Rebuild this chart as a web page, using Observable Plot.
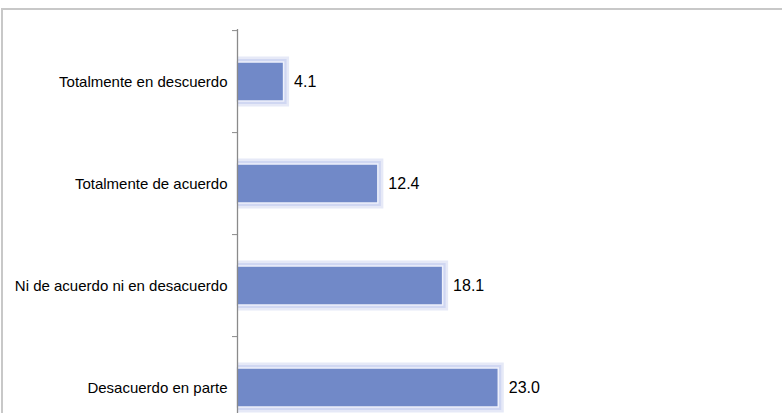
<!DOCTYPE html>
<html><head><meta charset="utf-8">
<script src="https://cdn.jsdelivr.net/npm/d3@7"></script>
<script src="https://cdn.jsdelivr.net/npm/@observablehq/plot@0.6"></script>
<style>
body{margin:0;background:#fff;}
#wrap{position:relative;width:782px;height:413px;overflow:hidden;}
#frame{position:absolute;left:1px;top:8px;width:900px;height:500px;border-top:2px solid #c8c8c8;border-left:2px solid #c8c8c8;pointer-events:none;}
#wrap svg{position:absolute;left:0;top:0;}
</style></head><body>
<div id="wrap"><div id="frame"></div></div>
<script>
const categories = ["Totalmente en descuerdo", "Totalmente de acuerdo", "Ni de acuerdo ni en desacuerdo", "Desacuerdo en parte"];
const values = [4.1, 12.4, 18.1, 23.0];
const valueLabels = ["4.1", "12.4", "18.1", "23.0"];

const data = categories.map((c, i) => ({category: c, value: values[i], label: valueLabels[i]}));
const yTop = 29.3, yBottom = 440.5;
const step = (yBottom - yTop) / categories.length;

const chart = Plot.plot({
  width: 782, height: 413,
  marginTop: 29, marginBottom: 0, marginLeft: 237, marginRight: 0,
  style: {fontFamily: "'Liberation Sans', Arial, sans-serif", background: "transparent", overflow: "visible"},
  x: {domain: [0, 25], range: [237, 521], axis: null},
  y: {domain: categories, range: [yTop, yBottom], paddingInner: 0.615, paddingOuter: 0.3075, label: null},
  marks: [
    Plot.barX(data, {x: "value", y: "category", fill: "none", stroke: "#e6e9f7", strokeWidth: 11, clip: true}),
    Plot.barX(data, {x: "value", y: "category", fill: "none", stroke: "#d0d7f2", strokeWidth: 6, clip: true}),
    Plot.barX(data, {x: "value", y: "category", fill: "#7189c8", stroke: "#eef1fb", strokeWidth: 1.5}),
    Plot.ruleX([0], {stroke: "#8a8a8a", strokeWidth: 1.3}),
    Plot.axisY({anchor: "left", label: null, tickSize: 5, fill: "none", stroke: "#8a8a8a", dy: -step / 2}),
    Plot.axisY({anchor: "left", label: null, tickSize: 0, tickPadding: 10, fontSize: 15, fill: "#000"}),
    Plot.text(data, {x: "value", y: "category", text: "label", textAnchor: "start", dx: 10, fontSize: 16, fill: "#000"})
  ]
});
document.getElementById("wrap").prepend(chart);
</script>
</body></html>
